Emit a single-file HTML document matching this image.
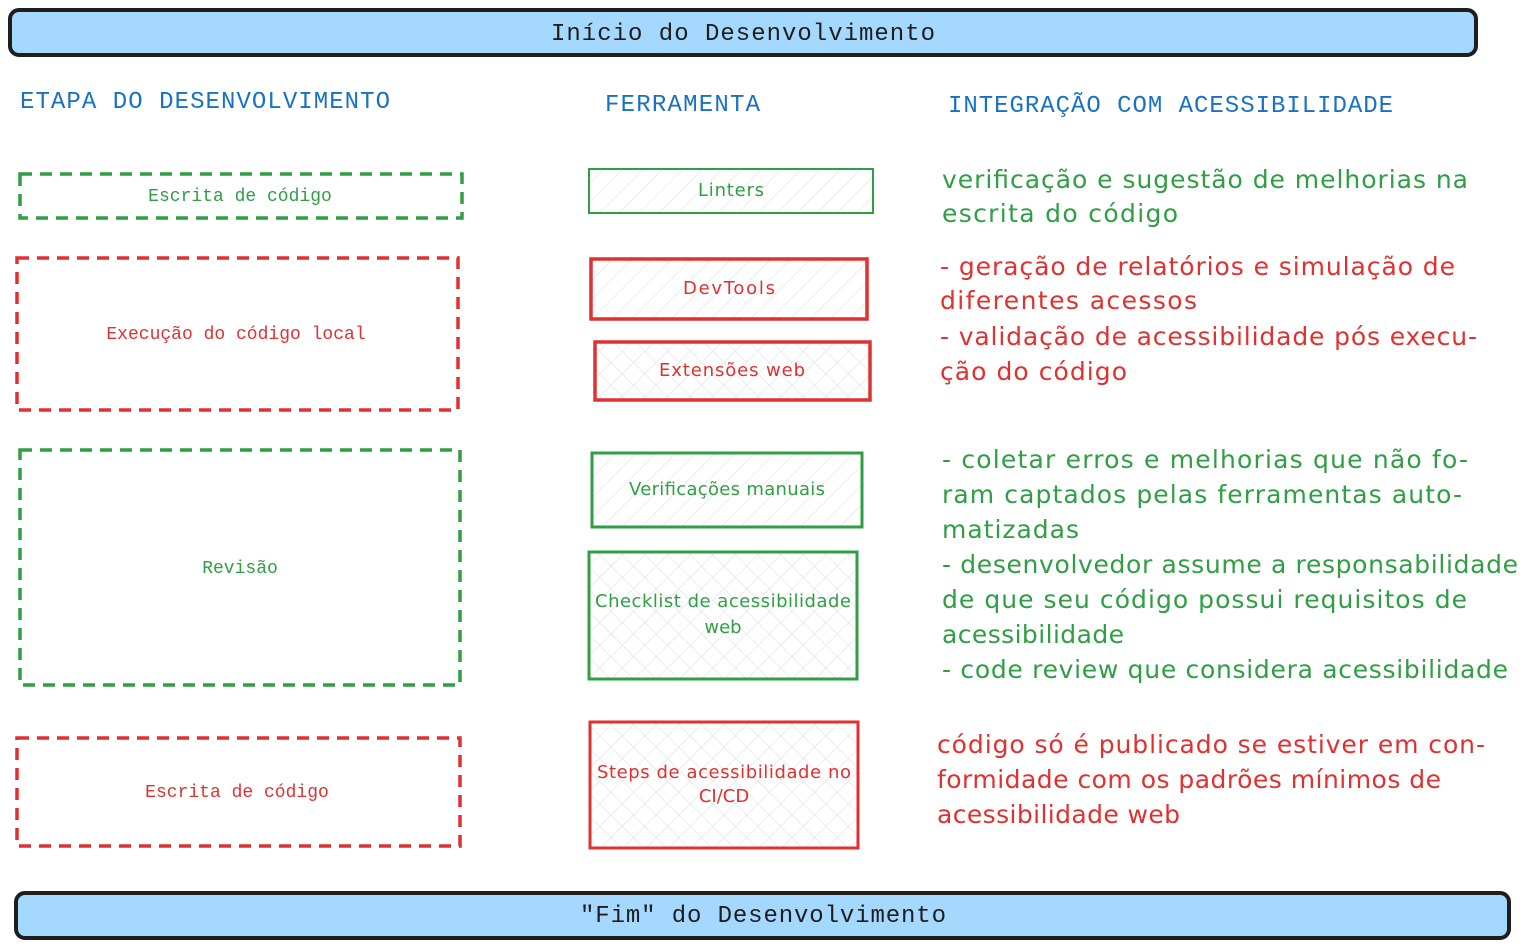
<!DOCTYPE html>
<html><head><meta charset="utf-8"><style>
html,body{margin:0;padding:0;background:#fff;}
svg{display:block}
.m{font-family:"Liberation Mono","DejaVu Sans Mono",monospace;}
.h{font-family:"DejaVu Sans","Liberation Sans",sans-serif;}
</style></head><body>
<svg width="1540" height="948" viewBox="0 0 1540 948" xmlns="http://www.w3.org/2000/svg">
<defs>
<pattern id="hat" width="14" height="14" patternUnits="userSpaceOnUse" patternTransform="rotate(45)">
<line x1="0" y1="0" x2="0" y2="14" stroke="#dde0e4" stroke-width="1.2"/></pattern>
<pattern id="cross" width="16" height="16" patternUnits="userSpaceOnUse" patternTransform="rotate(45)">
<line x1="0" y1="0" x2="0" y2="16" stroke="#dde0e4" stroke-width="1.2"/>
<line x1="0" y1="0" x2="16" y2="0" stroke="#dde0e4" stroke-width="1.2"/></pattern>
</defs>
<!-- top / bottom bars -->
<rect x="10" y="10" width="1466" height="45" rx="9" fill="#a5d8ff" stroke="#1e1e1e" stroke-width="4"/>
<text class="m" x="743" y="40" font-size="24" text-anchor="middle" fill="#1e1e1e" textLength="384">Início do Desenvolvimento</text>
<rect x="16" y="893" width="1493" height="45" rx="9" fill="#a5d8ff" stroke="#1e1e1e" stroke-width="4"/>
<text class="m" x="763" y="922" font-size="24" text-anchor="middle" fill="#1e1e1e" textLength="366">"Fim" do Desenvolvimento</text>
<!-- headers -->
<g class="m" fill="#1971c2" font-size="24">
<text x="20" y="108" textLength="370">ETAPA DO DESENVOLVIMENTO</text>
<text x="605" y="111" textLength="155">FERRAMENTA</text>
<text x="948" y="112" textLength="445">INTEGRAÇÃO COM ACESSIBILIDADE</text>
</g>
<!-- left dashed boxes -->
<g fill="none" stroke-width="3.5" stroke-dasharray="12 8">
<rect x="20" y="174" width="442" height="44" stroke="#2f9e44"/>
<rect x="17" y="258" width="441" height="152" stroke="#e03131"/>
<rect x="20" y="450" width="440" height="235" stroke="#2f9e44"/>
<rect x="17" y="738" width="443" height="108" stroke="#e03131"/>
</g>
<g class="m" font-size="18" text-anchor="middle">
<text x="240" y="201" fill="#2f9e44">Escrita de código</text>
<text x="236" y="339" fill="#e03131">Execução do código local</text>
<text x="240" y="573" fill="#2f9e44">Revisão</text>
<text x="237" y="797" fill="#e03131">Escrita de código</text>
</g>
<!-- tool boxes -->
<rect x="589" y="169" width="284" height="44" fill="url(#hat)" stroke="#2f9e44" stroke-width="2"/>
<rect x="591" y="259" width="276" height="60" fill="url(#hat)" stroke="#e03131" stroke-width="3.5"/>
<rect x="595" y="342" width="275" height="58" fill="url(#cross)" stroke="#e03131" stroke-width="3.5"/>
<rect x="592" y="453" width="270" height="74" fill="url(#hat)" stroke="#2f9e44" stroke-width="3"/>
<rect x="589" y="552" width="268" height="127" fill="url(#cross)" stroke="#2f9e44" stroke-width="3"/>
<rect x="590" y="722" width="268" height="126" fill="url(#cross)" stroke="#e03131" stroke-width="3"/>
<g class="h" font-size="18" text-anchor="middle">
<text x="731" y="196" fill="#2f9e44" textLength="66">Linters</text>
<text x="729" y="294" fill="#e03131" textLength="92">DevTools</text>
<text x="732" y="376" fill="#e03131" textLength="146">Extensões web</text>
<text x="727" y="495" fill="#2f9e44" textLength="196">Verificações manuais</text>
<text x="723" y="607" fill="#2f9e44" textLength="256">Checklist de acessibilidade</text>
<text x="723" y="633" fill="#2f9e44">web</text>
<text x="724" y="778" fill="#e03131" textLength="254">Steps de acessibilidade no</text>
<text x="724" y="802" fill="#e03131">CI/CD</text>
</g>
<!-- right text -->
<g class="h" font-size="25">
<g fill="#2f9e44">
<text x="942" y="188" textLength="526">verificação e sugestão de melhorias na</text>
<text x="942" y="222" textLength="236">escrita do código</text>
</g>
<g fill="#e03131">
<text x="940" y="275" textLength="515">- geração de relatórios e simulação de</text>
<text x="940" y="309" textLength="257">diferentes acessos</text>
<text x="940" y="345" textLength="537">- validação de acessibilidade pós execu-</text>
<text x="940" y="380" textLength="187">ção do código</text>
</g>
<g fill="#2f9e44">
<text x="942" y="468" textLength="526">- coletar erros e melhorias que não fo-</text>
<text x="942" y="503" textLength="520">ram captados pelas ferramentas auto-</text>
<text x="942" y="538" textLength="137">matizadas</text>
<text x="942" y="573" textLength="576">- desenvolvedor assume a responsabilidade</text>
<text x="942" y="608" textLength="525">de que seu código possui requisitos de</text>
<text x="942" y="643" textLength="182">acessibilidade</text>
<text x="942" y="678" textLength="566">- code review que considera acessibilidade</text>
</g>
<g fill="#e03131">
<text x="937" y="753" textLength="548">código só é publicado se estiver em con-</text>
<text x="937" y="788" textLength="504">formidade com os padrões mínimos de</text>
<text x="937" y="823" textLength="243">acessibilidade web</text>
</g>
</g>
</svg>
</body></html>
